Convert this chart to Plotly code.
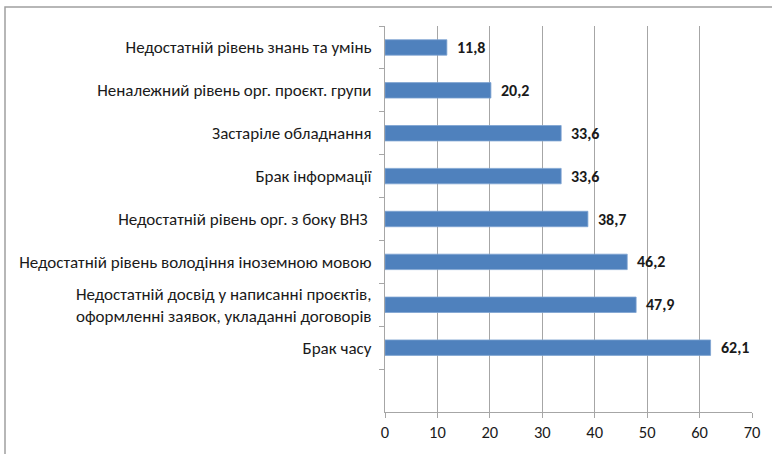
import plotly.graph_objects as go

# Survey results: obstacles to project work (share of respondents, %)
categories = [
    "Брак часу",
    "Недостатній досвід у написанні проєктів,<br>оформленні заявок, укладанні договорів",
    "Недостатній рівень володіння іноземною мовою",
    "Недостатній рівень орг. з боку ВНЗ ",
    "Брак інформації",
    "Застаріле обладнання",
    "Неналежний рівень орг. проєкт. групи",
    "Недостатній рівень знань та умінь",
]
values = [62.1, 47.9, 46.2, 38.7, 33.6, 33.6, 20.2, 11.8]
x_ticks = [0, 10, 20, 30, 40, 50, 60, 70]

W, H = 772, 454
ML, MR, MT, MB = 385, 20, 26, 42
FONT = "Calibri, Carlito, Lato, 'Liberation Sans', sans-serif"
GRID = "#a6a6a6"
BAR = "#4f81bd"

fig = go.Figure(
    go.Bar(
        x=values,
        y=categories,
        orientation="h",
        width=0.36,
        marker=dict(color=BAR, line=dict(color="#7ea3d2", width=0.8)),
        hoverinfo="skip",
    )
)

# value labels to the right of each bar
for cat, val in zip(categories, values):
    fig.add_annotation(
        x=val, y=cat, xref="x", yref="y",
        text=f"<b>{val:.1f}</b>".replace(".", ","),
        showarrow=False, xanchor="left", xshift=8,
        font=dict(family=FONT, size=16, color="#1a1a1a"),
    )

# outer chart frame (top and left edges visible)
pw = W - ML - MR
ph = H - MT - MB
fig.add_shape(
    type="rect", xref="paper", yref="paper",
    x0=(5 - ML) / pw, x1=(W + 20 - ML) / pw,
    y0=-(H + 20 - MT - ph) / ph, y1=(H - 7 - MB) / ph,
    line=dict(color="#a0a0a0", width=1.5), fillcolor="rgba(0,0,0,0)",
    layer="below",
)

fig.update_layout(
    width=W, height=H,
    margin=dict(l=ML, r=MR, t=MT, b=MB),
    paper_bgcolor="white", plot_bgcolor="white",
    font=dict(family=FONT, size=16, color="#1a1a1a"),
    showlegend=False,
    bargap=0.64,
)
fig.update_xaxes(
    range=[0, 70], tickvals=x_ticks,
    showgrid=True, gridcolor=GRID, gridwidth=1.2,
    showline=True, linecolor=GRID, linewidth=1.2,
    ticks="outside", ticklen=5, tickcolor=GRID,
    tickfont=dict(size=16.5),
    zeroline=False, fixedrange=True,
)
fig.update_yaxes(
    type="category", categoryorder="array", categoryarray=categories,
    range=[-1.5, 7.5],
    showgrid=False, showline=True, linecolor=GRID, linewidth=1.2,
    ticks="outside", ticklen=5, tickcolor=GRID, tickson="boundaries",
    tickfont=dict(size=17),
    ticklabelstandoff=9, fixedrange=True,
)

fig.write_html("out.html")
